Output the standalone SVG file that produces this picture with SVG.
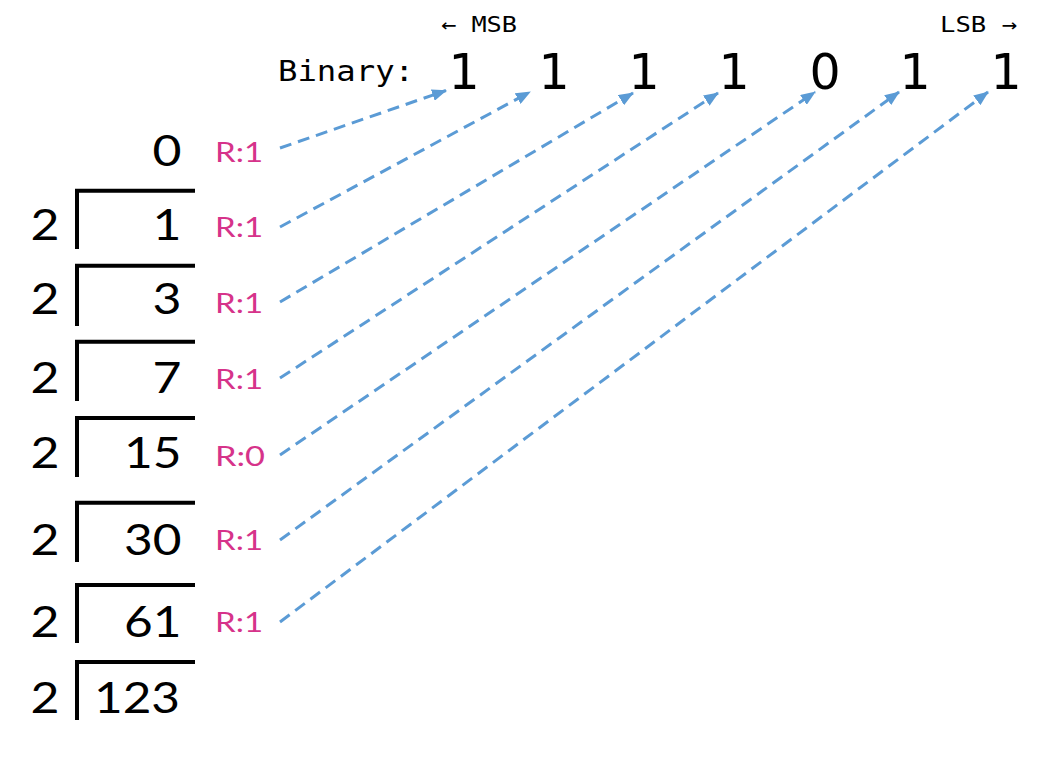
<svg xmlns="http://www.w3.org/2000/svg" width="1062" height="757" viewBox="0 0 1062 757">
<style>
.num{font-family:Lato,"DejaVu Sans",sans-serif;font-size:43px;fill:#000}
.rem{font-family:Lato,"DejaVu Sans",sans-serif;font-size:27px;fill:#d6338a}
.mono{font-family:"DejaVu Sans Mono",monospace;fill:#000}
.bit{font-family:"DejaVu Sans",sans-serif;font-size:49px;fill:#000;text-anchor:middle}
.br{fill:none;stroke:#000;stroke-width:4;stroke-linejoin:miter}
.ar{fill:none;stroke:#5b9bd5;stroke-width:3;stroke-dasharray:12 7;marker-end:url(#ah)}
</style>
<defs>
<marker id="ah" markerUnits="userSpaceOnUse" markerWidth="15" markerHeight="12" refX="14" refY="6" orient="auto">
<path d="M0,0 L15,6 L0,12 Z" fill="#5b9bd5"/>
</marker>
</defs>
<rect width="1062" height="757" fill="#fff"/>
<g id="header">
<text class="mono" x="441" y="32" font-size="22" textLength="76" lengthAdjust="spacingAndGlyphs">← MSB</text>
<text class="mono" x="940" y="32" font-size="22" textLength="77" lengthAdjust="spacingAndGlyphs">LSB →</text>
<text class="mono" x="278" y="81" font-size="28" textLength="136" lengthAdjust="spacingAndGlyphs">Binary:</text>
</g>
<g id="bits">
<text class="bit" x="464" y="89">1</text>
<text class="bit" x="554" y="89">1</text>
<text class="bit" x="644" y="89">1</text>
<text class="bit" x="734" y="89">1</text>
<text class="bit" x="825" y="89">0</text>
<text class="bit" x="915" y="89">1</text>
<text class="bit" x="1006" y="89">1</text>
</g>
<g id="row0">
<text class="num" x="181.5" y="166" text-anchor="end" textLength="29" lengthAdjust="spacingAndGlyphs">0</text>
<text class="rem" x="215" y="161.5" textLength="48" lengthAdjust="spacingAndGlyphs">R:1</text>
</g>
<g id="row1">
<text class="num" x="45" y="240" text-anchor="middle" textLength="29" lengthAdjust="spacingAndGlyphs">2</text>
<path class="br" d="M77,249 V190.7 H195"/>
<text class="num" x="181.5" y="240" text-anchor="end" textLength="29" lengthAdjust="spacingAndGlyphs">1</text>
<text class="rem" x="215" y="237" textLength="48" lengthAdjust="spacingAndGlyphs">R:1</text>
</g>
<g id="row2">
<text class="num" x="45" y="314" text-anchor="middle" textLength="29" lengthAdjust="spacingAndGlyphs">2</text>
<path class="br" d="M77,326 V265.7 H195"/>
<text class="num" x="181.5" y="314" text-anchor="end" textLength="29" lengthAdjust="spacingAndGlyphs">3</text>
<text class="rem" x="215" y="313" textLength="48" lengthAdjust="spacingAndGlyphs">R:1</text>
</g>
<g id="row3">
<text class="num" x="45" y="393" text-anchor="middle" textLength="29" lengthAdjust="spacingAndGlyphs">2</text>
<path class="br" d="M77,401 V341.7 H195"/>
<text class="num" x="181.5" y="393" text-anchor="end" textLength="29" lengthAdjust="spacingAndGlyphs">7</text>
<text class="rem" x="215" y="389" textLength="48" lengthAdjust="spacingAndGlyphs">R:1</text>
</g>
<g id="row4">
<text class="num" x="45" y="468" text-anchor="middle" textLength="29" lengthAdjust="spacingAndGlyphs">2</text>
<path class="br" d="M77,477 V418 H195"/>
<text class="num" x="181.5" y="468" text-anchor="end" textLength="57.5" lengthAdjust="spacingAndGlyphs">15</text>
<text class="rem" x="215" y="466" textLength="50" lengthAdjust="spacingAndGlyphs">R:0</text>
</g>
<g id="row5">
<text class="num" x="45" y="555" text-anchor="middle" textLength="29" lengthAdjust="spacingAndGlyphs">2</text>
<path class="br" d="M77,562 V502.7 H195"/>
<text class="num" x="181.5" y="555" text-anchor="end" textLength="57.5" lengthAdjust="spacingAndGlyphs">30</text>
<text class="rem" x="215" y="550" textLength="48" lengthAdjust="spacingAndGlyphs">R:1</text>
</g>
<g id="row6">
<text class="num" x="45" y="637" text-anchor="middle" textLength="29" lengthAdjust="spacingAndGlyphs">2</text>
<path class="br" d="M77,643 V585 H195"/>
<text class="num" x="181.5" y="637" text-anchor="end" textLength="57.5" lengthAdjust="spacingAndGlyphs">61</text>
<text class="rem" x="215" y="632" textLength="48" lengthAdjust="spacingAndGlyphs">R:1</text>
</g>
<g id="row7">
<text class="num" x="45" y="713" text-anchor="middle" textLength="29" lengthAdjust="spacingAndGlyphs">2</text>
<path class="br" d="M77,720 V662 H195"/>
<text class="num" x="180" y="713" text-anchor="end" textLength="86" lengthAdjust="spacingAndGlyphs">123</text>
</g>
<g id="connectors">
<line class="ar" x1="280" y1="148" x2="446" y2="90.5"/>
<line class="ar" x1="280" y1="227" x2="530" y2="92"/>
<line class="ar" x1="280" y1="302" x2="633" y2="93"/>
<line class="ar" x1="280" y1="378" x2="718" y2="93"/>
<line class="ar" x1="280" y1="455" x2="815" y2="92"/>
<line class="ar" x1="280" y1="540" x2="899" y2="92"/>
<line class="ar" x1="280" y1="622" x2="988" y2="92"/>
</g>
</svg>
